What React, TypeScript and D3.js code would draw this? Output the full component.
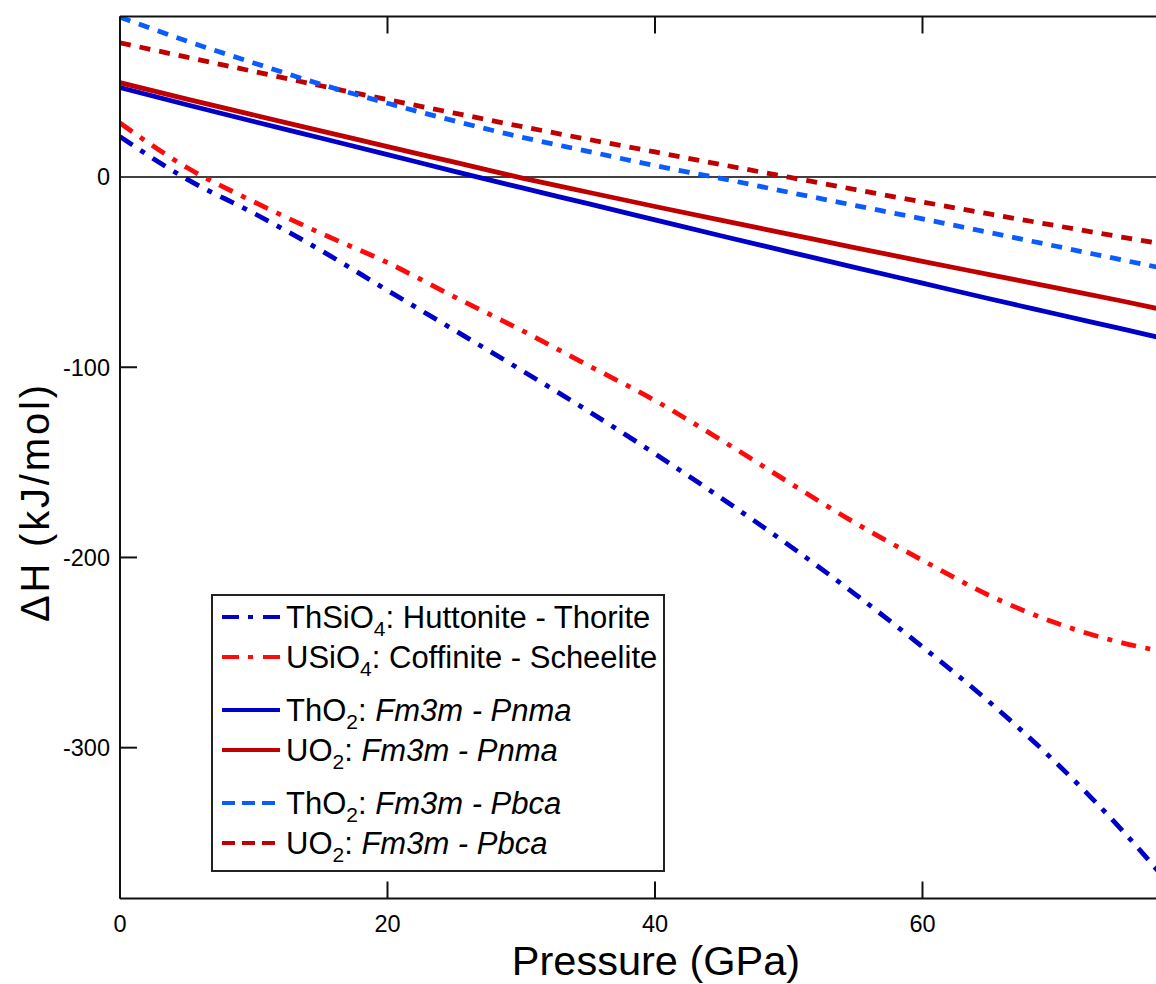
import React from 'react';
import * as d3 from 'd3';

// ---------- data ----------
const pressure = [0, 5, 10, 15, 20, 25, 30, 35, 40, 45, 50, 55, 60, 65, 70, 75, 78];

const thSiO4HuttoniteThorite = [21.2, -1.1, -19, -38.5, -59.6, -80.5, -101.5, -123, -145.5, -169, -193.5, -219.5, -247, -276, -308, -344, -368];
const uSiO4CoffiniteScheelite = [28.4, 5, -13, -29.5, -45, -63, -80.5, -99, -117.5, -138.5, -160.5, -182, -201.5, -220, -234.5, -245, -249.5];
const thO2Pnma = [47, 38, 29.2, 20.5, 11.8, 3, -5.6, -14, -22.5, -31, -39.3, -47.6, -55.8, -64, -72, -80, -84.8];
const uO2Pnma = [49.6, 41, 32.6, 24.3, 16, 7.8, -0.4, -8, -15.5, -22.8, -30, -37.2, -44.3, -51.3, -58.3, -65.3, -69.8];
const thO2Pbca = [84, 71.5, 60, 48.8, 38.8, 29.5, 21, 13.5, 6, -0.8, -8, -15, -22, -29.2, -36.4, -43.7, -48];
const uO2Pbca = [70.6, 63, 55.5, 48, 40.7, 33.6, 26.6, 19.8, 13.2, 6.5, -0.1, -6.6, -13.1, -19.4, -25.6, -31.7, -35.3];

const xTicks = [0, 20, 40, 60];
const yTicks = [0, -100, -200, -300];

const xDomain = [0, 80];
const yDomain = [-379.3, 84.4];

// ---------- styling ----------
const DARK_BLUE = '#0000c8';
const RED = '#ff0a0a';
const DARK_RED = '#c00000';
const LIGHT_BLUE = '#0a5cff';
const DASH_DOT = '15,9.5,5,9.5';
const DASH = '11,9';
const FONT = '"Liberation Sans", Arial, sans-serif';

type Part = { t: string; sub?: boolean; it?: boolean };

const series = [
  { key: 'thsio4', values: thSiO4HuttoniteThorite, color: DARK_BLUE, dash: DASH_DOT },
  { key: 'usio4', values: uSiO4CoffiniteScheelite, color: RED, dash: DASH_DOT },
  { key: 'tho2pnma', values: thO2Pnma, color: DARK_BLUE, dash: null },
  { key: 'uo2pnma', values: uO2Pnma, color: DARK_RED, dash: null },
  { key: 'uo2pbca', values: uO2Pbca, color: DARK_RED, dash: DASH },
  { key: 'tho2pbca', values: thO2Pbca, color: LIGHT_BLUE, dash: DASH },
];

const legendItems: { color: string; legendDash: string | null; parts: Part[]; cy: number }[] = [
  { color: DARK_BLUE, legendDash: '17,9,5,10,20', cy: 617,
    parts: [{ t: 'ThSiO' }, { t: '4', sub: true }, { t: ': Huttonite - Thorite' }] },
  { color: RED, legendDash: '17,9,5,10,20', cy: 657,
    parts: [{ t: 'USiO' }, { t: '4', sub: true }, { t: ': Coffinite - Scheelite' }] },
  { color: DARK_BLUE, legendDash: null, cy: 710,
    parts: [{ t: 'ThO' }, { t: '2', sub: true }, { t: ': ' }, { t: 'Fm3m - Pnma', it: true }] },
  { color: DARK_RED, legendDash: null, cy: 750,
    parts: [{ t: 'UO' }, { t: '2', sub: true }, { t: ': ' }, { t: 'Fm3m - Pnma', it: true }] },
  { color: LIGHT_BLUE, legendDash: '13,7', cy: 803,
    parts: [{ t: 'ThO' }, { t: '2', sub: true }, { t: ': ' }, { t: 'Fm3m - Pbca', it: true }] },
  { color: DARK_RED, legendDash: '13,7', cy: 843,
    parts: [{ t: 'UO' }, { t: '2', sub: true }, { t: ': ' }, { t: 'Fm3m - Pbca', it: true }] },
];

export default function App() {
  const W = 1156;
  const H = 984;
  const left = 120;
  const top = 16.5;
  const bottom = 898.5;
  const pxPerGPa = 13.375;
  const right = left + (xDomain[1] - xDomain[0]) * pxPerGPa;

  const x = d3.scaleLinear().domain(xDomain).range([left, right]);
  const y = d3.scaleLinear().domain(yDomain).range([bottom, top]);

  const line = d3
    .line<number>()
    .x((_, i) => x(pressure[i]))
    .y((d) => y(d))
    .curve(d3.curveMonotoneX);

  const tickLen = 17;

  const renderParts = (parts: Part[]) => {
    const out: React.ReactNode[] = [];
    let shifted = false;
    parts.forEach((p, i) => {
      if (p.sub) {
        out.push(
          <tspan key={i} fontSize={21} dy={8}>
            {p.t}
          </tspan>
        );
        shifted = true;
      } else {
        out.push(
          <tspan key={i} dy={shifted ? -8 : 0} fontStyle={p.it ? 'italic' : 'normal'}>
            {p.t}
          </tspan>
        );
        shifted = false;
      }
    });
    return out;
  };

  return (
    <svg
      width={W}
      height={H}
      style={{ position: 'absolute', left: 0, top: 0, background: '#fff' }}
      fontFamily={FONT}
    >
      <defs>
        <clipPath id="plot-clip">
          <rect x={left} y={top} width={right - left} height={bottom - top} />
        </clipPath>
      </defs>
      <rect x={0} y={0} width={W} height={H} fill="#fff" />

      {/* zero line */}
      <line x1={left} x2={right} y1={y(0)} y2={y(0)} stroke="#000" strokeWidth={1.6} />

      {/* series */}
      <g clipPath="url(#plot-clip)">
        {series.map((s) => (
          <path
            key={s.key}
            d={line(s.values) || ''}
            fill="none"
            stroke={s.color}
            strokeWidth={4.8}
            strokeDasharray={s.dash || undefined}
          />
        ))}
      </g>

      {/* frame */}
      <line x1={left} x2={left} y1={top} y2={bottom} stroke="#111" strokeWidth={2} />
      <line x1={left} x2={right} y1={top} y2={top} stroke="#111" strokeWidth={2} />
      <line x1={left} x2={right} y1={bottom} y2={bottom} stroke="#111" strokeWidth={2} />

      {/* x ticks */}
      {xTicks.map((t) => (
        <g key={'xt' + t}>
          <line x1={x(t)} x2={x(t)} y1={bottom} y2={bottom - tickLen} stroke="#111" strokeWidth={2} />
          <line x1={x(t)} x2={x(t)} y1={top} y2={top + tickLen} stroke="#111" strokeWidth={2} />
          <text x={x(t)} y={931.5} textAnchor="middle" fontSize={23.5} fill="#000">
            {t}
          </text>
        </g>
      ))}

      {/* y ticks */}
      {yTicks.map((t) => (
        <g key={'yt' + t}>
          {t !== 0 && (
            <line x1={left} x2={left + tickLen} y1={y(t)} y2={y(t)} stroke="#111" strokeWidth={2} />
          )}
          <text x={110} y={y(t) + 8.3} textAnchor="end" fontSize={23.5} fill="#000">
            {t}
          </text>
        </g>
      ))}

      {/* axis titles */}
      <text x={656} y={975} textAnchor="middle" fontSize={41.5} fill="#000">
        Pressure (GPa)
      </text>
      <text
        transform="translate(49, 622) rotate(-90)"
        textAnchor="start"
        fontSize={40}
        textLength={237}
        lengthAdjust="spacing"
        fill="#000"
      >
        ΔH (kJ/mol)
      </text>

      {/* legend */}
      <g>
        <rect x={212} y={595} width={452} height={276} fill="#fff" stroke="#222" strokeWidth={2} />
        {legendItems.map((it, i) => (
          <g key={'lg' + i}>
            <line
              x1={222}
              x2={280}
              y1={it.cy}
              y2={it.cy}
              stroke={it.color}
              strokeWidth={4}
              strokeDasharray={it.legendDash || undefined}
            />
            <text x={286} y={it.cy + 10.8} fontSize={31} fill="#000">
              {renderParts(it.parts)}
            </text>
          </g>
        ))}
      </g>
    </svg>
  );
}
